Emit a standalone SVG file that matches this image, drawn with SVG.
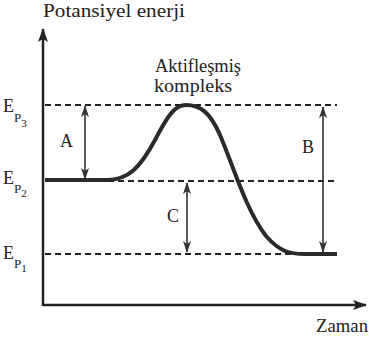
<svg xmlns="http://www.w3.org/2000/svg" width="369" height="337" viewBox="0 0 369 337">
<style>
.t{font-family:'Liberation Serif','DejaVu Serif',serif;fill:#222;font-size:18px}
.dash{stroke:#222;stroke-width:2;stroke-dasharray:6,4;fill:none}
.arr{stroke:#333;stroke-width:1.6;fill:none;marker-start:url(#ah);marker-end:url(#ah)}
.axis{stroke:#222;stroke-width:2.5;fill:none}
</style>
<defs>
<marker id="ah" viewBox="0 0 12 8" refX="11" refY="4" markerWidth="12" markerHeight="8" markerUnits="userSpaceOnUse" orient="auto-start-reverse">
<path d="M0,0 L12,4 L0,8 L3,4 Z" fill="#333"/>
</marker>
<marker id="axh" viewBox="0 0 14 10" refX="13" refY="5" markerWidth="14" markerHeight="10" markerUnits="userSpaceOnUse" orient="auto">
<path d="M0,0 L14,5 L0,10 L3,5 Z" fill="#222"/>
</marker>
</defs>
<g id="axes">
<line class="axis" x1="43" y1="306" x2="43" y2="29" marker-end="url(#axh)"/>
<line class="axis" x1="43" y1="305" x2="366" y2="305" marker-end="url(#axh)"/>
<text class="t" x="43" y="17" textLength="142" lengthAdjust="spacingAndGlyphs">Potansiyel enerji</text>
<text class="t" x="316" y="332" textLength="52" lengthAdjust="spacingAndGlyphs">Zaman</text>
</g>
<g id="levels">
<line class="dash" x1="45" y1="105" x2="337" y2="105"/>
<line class="dash" x1="108" y1="181" x2="337" y2="181"/>
<line class="dash" x1="45" y1="254" x2="300" y2="254"/>
<text class="t" x="3" y="112" font-size="19">E<tspan y="122" font-size="13">P</tspan><tspan y="127" font-size="11">3</tspan></text>
<text class="t" x="3" y="184" font-size="19">E<tspan y="193" font-size="13">P</tspan><tspan y="197" font-size="11">2</tspan></text>
<text class="t" x="3" y="259" font-size="19">E<tspan y="268" font-size="13">P</tspan><tspan y="272" font-size="11">1</tspan></text>
</g>
<g id="curve">
<path d="M45,180 L107,180 C128,180 140,168 155,140 C168,115 175,105 186,105 C200,105 210,112 220,135 C234,168 246,210 266,236 C280,252 290,254 305,254 L337,254" stroke="#2a2a2a" stroke-width="4" fill="none" stroke-linejoin="round"/>
<text class="t" x="155" y="72" textLength="86" lengthAdjust="spacingAndGlyphs">Aktifleşmiş</text>
<text class="t" x="154" y="92" textLength="78" lengthAdjust="spacingAndGlyphs">kompleks</text>
</g>
<g id="connectors">
<line class="arr" x1="85" y1="106" x2="85" y2="179"/>
<line class="arr" x1="323" y1="107" x2="323" y2="252"/>
<line class="arr" x1="187" y1="183" x2="187" y2="252"/>
</g>
<g id="labels">
<text class="t" x="60" y="147">A</text>
<text class="t" x="302" y="153">B</text>
<text class="t" x="167" y="222">C</text>
</g>
</svg>
